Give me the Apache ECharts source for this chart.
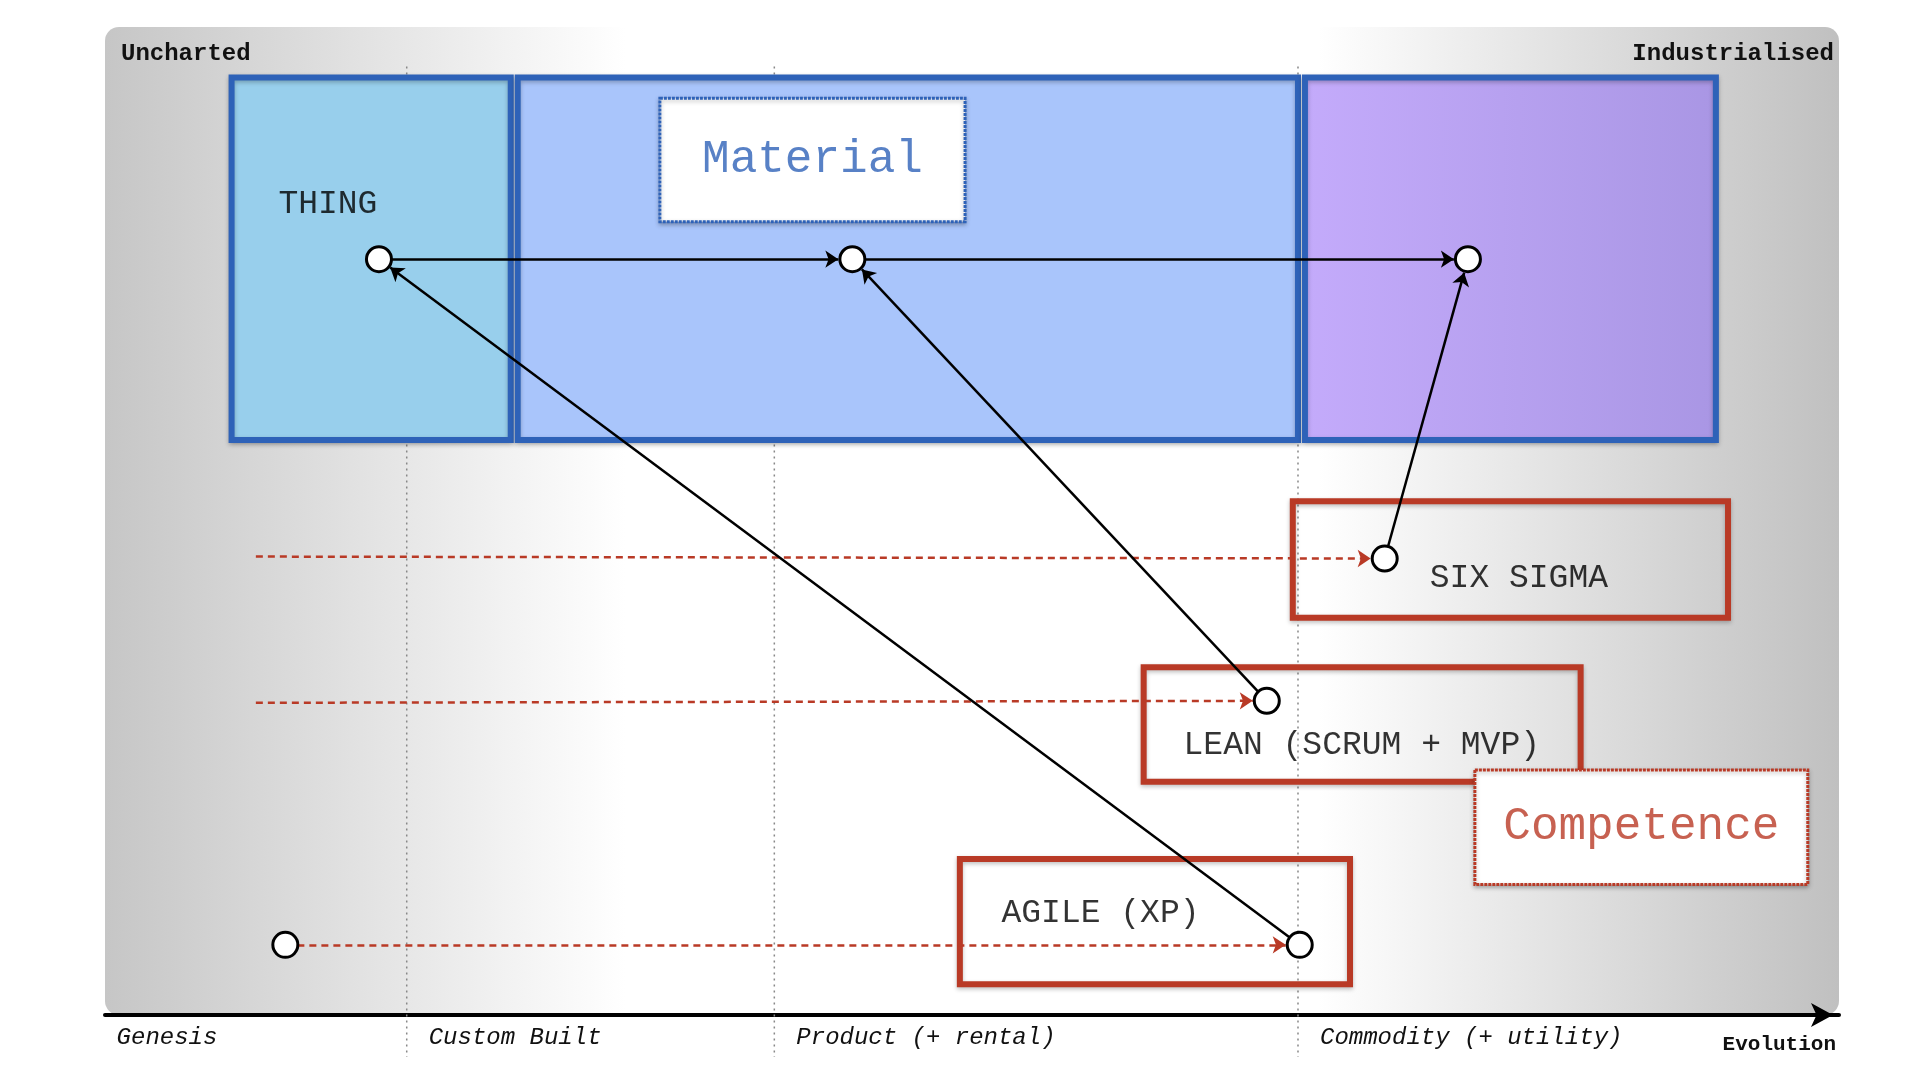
<!DOCTYPE html>
<html>
<head>
<meta charset="utf-8">
<script src="https://cdn.jsdelivr.net/npm/echarts@6/dist/echarts.min.js"></script>
<style>html,body{margin:0;background:#fff}#chart{width:1920px;height:1080px}</style>
</head>
<body>
<div id="chart"></div>
<script>
var MONO = "'Liberation Mono', 'DejaVu Sans Mono', monospace";

// evolution stages (x position, label)
var stages = [
    { name: "Genesis", x: -0.6, line: false },
    { name: "Custom Built", x: 17.4, line: true },
    { name: "Product (+ rental)", x: 38.6, line: true },
    { name: "Commodity (+ utility)", x: 68.8, line: true }
];

// component nodes [evolution, visibility]
var nodes = {
    thing: [15.8, 76.5],
    material: [43.1, 76.5],
    industrial: [78.6, 76.5],
    sixSigma: [73.8, 46.2],
    lean: [67.0, 31.8],
    agile: [68.9, 7.1],
    start: [10.4, 7.1]
};

// material boxes [x1, y1, x2, y2, fill]
var materialBoxes = [
    [7.3, 94.9, 23.4, 58.2, "#98cfec"],
    [23.8, 94.9, 68.8, 58.2, "#a9c5fb"],
    [69.2, 94.9, 92.9, 58.2, "purple"]
];

// competence boxes [x1, y1, x2, y2]
var competenceBoxes = [
    [68.5, 52.0, 93.6, 40.2],
    [59.9, 35.2, 85.1, 23.6],
    [49.3, 15.8, 71.8, 3.1]
];

// labels [x, y, text]
var boxLabels = [
    [10.0, 82.1, "THING"],
    [76.4, 44.2, "SIX SIGMA"],
    [62.2, 27.3, "LEAN (SCRUM + MVP)"],
    [51.7, 10.3, "AGILE (XP)"]
];

// solid arrows [from, to]
var arrows = [
    ["thing", "material"],
    ["material", "industrial"],
    ["agile", "thing"],
    ["lean", "material"],
    ["sixSigma", "industrial"]
];

// dashed red lines [startX, startY, to]
var dashed = [
    [8.7, 46.4, "sixSigma"],
    [8.7, 31.6, "lean"],
    [10.4, 7.1, "agile"]
];

// 1 unit of x ≈ 17.3px, 1 unit of y ≈ 9.9px; stop arrows at circle edge
function shorten(a, b, px) {
    var dx = (b[0] - a[0]) * 17.3, dy = (b[1] - a[1]) * 9.9;
    var len = Math.sqrt(dx * dx + dy * dy);
    var k = (len - px) / len;
    return [a[0] + (b[0] - a[0]) * k, a[1] + (b[1] - a[1]) * k];
}

var arrowData = arrows.map(function (p) {
    var a = nodes[p[0]], b = nodes[p[1]];
    return { coords: [shorten(b, a, 12), shorten(a, b, 14)] };
});
var dashedData = dashed.map(function (d) {
    var a = [d[0], d[1]], b = nodes[d[2]];
    return { coords: [d[2] === "agile" ? shorten(b, a, 12) : a, shorten(a, b, 14)] };
});

var blue = "#2e62b8", red = "#b93a26";

function rectItem(params, api, fill, stroke, lw, dash) {
    var p1 = api.coord([api.value(0), api.value(1)]);
    var p2 = api.coord([api.value(2), api.value(3)]);
    return {
        type: "rect",
        shape: { x: p1[0], y: p1[1], width: p2[0] - p1[0], height: p2[1] - p1[1] },
        style: { fill: fill, stroke: stroke, lineWidth: lw, lineDash: dash || null,
                 shadowBlur: 4, shadowColor: "rgba(0,0,0,0.25)", shadowOffsetY: 2 }
    };
}

var chart = echarts.init(document.getElementById("chart"));
chart.setOption({
    animation: false,
    graphic: [{
        type: "rect", z: -10,
        shape: { x: 105, y: 27, width: 1734, height: 988, r: 14 },
        style: {
            fill: new echarts.graphic.LinearGradient(0, 0, 1, 0, [
                { offset: 0, color: "#c6c6c6" },
                { offset: 0.3, color: "#ffffff" },
                { offset: 0.7, color: "#ffffff" },
                { offset: 1, color: "#c0c0c0" }
            ])
        }
    }, {
        type: "text", left: 121, top: 42,
        style: { text: "Uncharted", font: "bold 24px " + MONO, fill: "#111" }
    }, {
        type: "text", right: 86, top: 42,
        style: { text: "Industrialised", font: "bold 24px " + MONO, fill: "#111" }
    }, {
        type: "text", right: 84, top: 1034,
        style: { text: "Evolution", font: "bold 21px " + MONO, fill: "#111" }
    }],
    grid: { left: 105, right: 81, top: 27, bottom: 65 },
    xAxis: {
        type: "value", min: 0, max: 100,
        splitLine: { show: false }, axisTick: { show: false }, axisLabel: { show: false },
        axisLine: { lineStyle: { color: "#000", width: 4 }, symbol: ["none", "arrow"], symbolSize: [18, 22], symbolOffset: [0, -6] }
    },
    yAxis: {
        type: "value", min: 0, max: 100, show: false
    },
    series: [{
        // stage dividers and labels
        type: "custom", clip: false, z: 1,
        data: stages.map(function (s) { return [s.x, s.line ? 1 : 0, s.name]; }),
        renderItem: function (params, api) {
            var p = api.coord([api.value(0), 0]);
            var top = api.coord([api.value(0), 96])[1];
            var kids = [{
                type: "text",
                style: { text: stages[params.dataIndex].name, x: p[0] + 22, y: p[1] + 23,
                         font: "italic 24px " + MONO, fill: "#111", verticalAlign: "middle" }
            }];
            if (api.value(1)) {
                kids.push({ type: "line", shape: { x1: p[0], y1: top, x2: p[0], y2: p[1] + 42 },
                            style: { stroke: "#888", lineWidth: 1.5, lineDash: [2, 4] } });
            }
            return { type: "group", children: kids };
        }
    }, {
        type: "custom", z: 2,
        data: materialBoxes,
        renderItem: function (params, api) {
            var fill = materialBoxes[params.dataIndex][4];
            if (fill === "purple") {
                fill = new echarts.graphic.LinearGradient(0, 0, 1, 0, [
                    { offset: 0, color: "#c4abfb" }, { offset: 1, color: "#a996e4" }]);
            }
            return rectItem(params, api, fill, blue, 6);
        }
    }, {
        type: "custom", z: 3,
        data: [[32.0, 92.8, 49.6, 80.3]],
        renderItem: function (params, api) { return rectItem(params, api, "#fff", blue, 3, [3, 1]); }
    }, {
        type: "custom", z: 3,
        data: competenceBoxes,
        renderItem: function (params, api) { return rectItem(params, api, "none", red, 6); }
    }, {
        type: "custom", z: 3,
        data: [[79.0, 24.8, 98.2, 13.2]],
        renderItem: function (params, api) { return rectItem(params, api, "#fff", red, 3, [3, 1]); }
    }, {
        type: "scatter", z: 4, symbolSize: 0, silent: true,
        data: boxLabels.map(function (l) { return { value: [l[0], l[1]], name: l[2] }; }),
        label: { show: true, position: "right", distance: 0, formatter: "{b}",
                 fontFamily: MONO, fontSize: 33, color: "#000" }
    }, {
        type: "scatter", z: 4, symbolSize: 0, silent: true,
        data: [
            { value: [40.8, 86.6], name: "Material", label: { color: blue } },
            { value: [88.6, 19.0], name: "Competence", label: { color: red } }
        ],
        label: { show: true, position: "inside", formatter: "{b}", fontFamily: MONO, fontSize: 46 }
    }, {
        type: "lines", coordinateSystem: "cartesian2d", z: 5,
        data: dashedData, symbol: ["none", "arrow"], symbolSize: 13,
        lineStyle: { color: red, width: 2.5, type: [7, 5], opacity: 1 }
    }, {
        type: "lines", coordinateSystem: "cartesian2d", z: 6,
        data: arrowData, symbol: ["none", "arrow"], symbolSize: 13,
        lineStyle: { color: "#000", width: 2.5, opacity: 1 }
    }, {
        type: "scatter", z: 7, symbol: "circle", symbolSize: 25,
        data: Object.keys(nodes).map(function (k) { return nodes[k]; }),
        itemStyle: { color: "#fff", borderColor: "#000", borderWidth: 3, opacity: 1 }
    }]
});
</script>
</body>
</html>
